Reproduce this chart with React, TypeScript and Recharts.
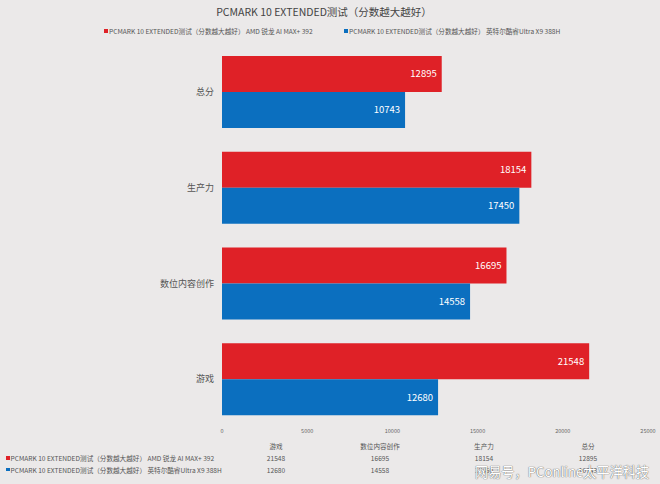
import React from "react";
import { BarChart, Bar, XAxis, YAxis, LabelList } from "recharts";

const categories = ["总分", "生产力", "数位内容创作", "游戏"];
const amdValues = [12895, 18154, 16695, 21548];
const intelValues = [10743, 17450, 14558, 12680];
const seriesNames = [
  "PCMARK 10 EXTENDED测试（分数越大越好） AMD 锐龙 AI MAX+ 392",
  "PCMARK 10 EXTENDED测试（分数越大越好） 英特尔酷睿Ultra X9 388H",
];
const xTicks = [0, 5000, 10000, 15000, 20000, 25000];
const title = "PCMARK 10 EXTENDED测试（分数越大越好）";
const watermark = "网易号，PConline太平洋科技";

const RED = "#df2127";
const BLUE = "#0b6fbf";
const BG = "#ebe9e9";
const FONT = '"Noto Sans CJK SC", "Noto Sans", sans-serif';

const data = categories.map((c, i) => ({ name: c, amd: amdValues[i], intel: intelValues[i] }));

// table order (bottom-up, as in the chart)
const tableOrder = [3, 2, 1, 0];

export default function App() {
  const tableLeft = 224;
  const colW = 104;
  return (
    <div
      style={{
        position: "absolute",
        left: 0,
        top: 0,
        width: 660,
        height: 484,
        background: BG,
        fontFamily: FONT,
        overflow: "hidden",
      }}
    >
      <div
        style={{
          position: "absolute",
          top: 4,
          left: -6,
          width: 660,
          textAlign: "center",
          fontSize: 10.5,
          color: "#444",
        }}
      >
        {title}
      </div>
      {/* legend */}
      <div style={{ position: "absolute", top: 26, left: 104, fontSize: 6.6, color: "#555", whiteSpace: "nowrap", display: "flex", alignItems: "center" }}>
        <span style={{ display: "inline-block", width: 4, height: 4, background: RED, marginRight: 1 }} />
        {seriesNames[0]}
      </div>
      <div style={{ position: "absolute", top: 26, left: 344, fontSize: 6.6, color: "#555", whiteSpace: "nowrap", display: "flex", alignItems: "center" }}>
        <span style={{ display: "inline-block", width: 4, height: 4, background: BLUE, marginRight: 1 }} />
        {seriesNames[1]}
      </div>

      <div style={{ position: "absolute", left: 0, top: 0 }}>
        <BarChart
          width={660}
          height={484}
          data={data}
          layout="vertical"
          margin={{ top: 44, right: 12, bottom: 27, left: 162 }}
          barCategoryGap={12}
          barGap={0}
        >
          <XAxis
            type="number"
            domain={[0, 25000]}
            ticks={xTicks}
            axisLine={false}
            tickLine={false}
            tickSize={0}
            tickMargin={2}
            height={30}
            tick={{ fontSize: 5.5, fill: "#666", fontFamily: FONT }}
            interval={0}
          />
          <YAxis
            type="category"
            dataKey="name"
            width={60}
            axisLine={false}
            tickLine={false}
            tick={{ fontSize: 9, fill: "#555", fontFamily: FONT }}
          />
          <Bar dataKey="amd" fill={RED} isAnimationActive={false}>
            <LabelList dataKey="amd" position="insideRight" fill="#fff" fontSize={9.5} fontFamily={FONT} />
          </Bar>
          <Bar dataKey="intel" fill={BLUE} isAnimationActive={false}>
            <LabelList dataKey="intel" position="insideRight" fill="#fff" fontSize={9.5} fontFamily={FONT} />
          </Bar>
        </BarChart>
      </div>

      {/* data table */}
      {tableOrder.map((idx, k) => (
        <div
          key={"h" + idx}
          style={{ position: "absolute", top: 441, left: tableLeft + k * colW, width: colW, textAlign: "center", fontSize: 6.6, color: "#555" }}
        >
          {categories[idx]}
        </div>
      ))}
      {[amdValues, intelValues].map((vals, r) => (
        <React.Fragment key={"r" + r}>
          <div style={{ position: "absolute", top: 453 + r * 11.5, left: 6, fontSize: 6.6, color: "#555", whiteSpace: "nowrap", display: "flex", alignItems: "center" }}>
            <span style={{ display: "inline-block", width: 3.5, height: 3.5, background: r === 0 ? RED : BLUE, marginRight: 1 }} />
            {seriesNames[r]}
          </div>
          {tableOrder.map((idx, k) => (
            <div
              key={"c" + r + idx}
              style={{ position: "absolute", top: 453 + r * 11.5, left: tableLeft + k * colW, width: colW, textAlign: "center", fontSize: 6.6, color: "#555" }}
            >
              {vals[idx]}
            </div>
          ))}
        </React.Fragment>
      ))}

      <div
        style={{
          position: "absolute",
          top: 462,
          left: 475,
          fontSize: 13.2,
          lineHeight: "20px",
          color: "#fff",
          whiteSpace: "nowrap",
          textShadow: "0 0 1px #666, 0 0 1px #666",
        }}
      >
        {watermark}
      </div>
    </div>
  );
}
